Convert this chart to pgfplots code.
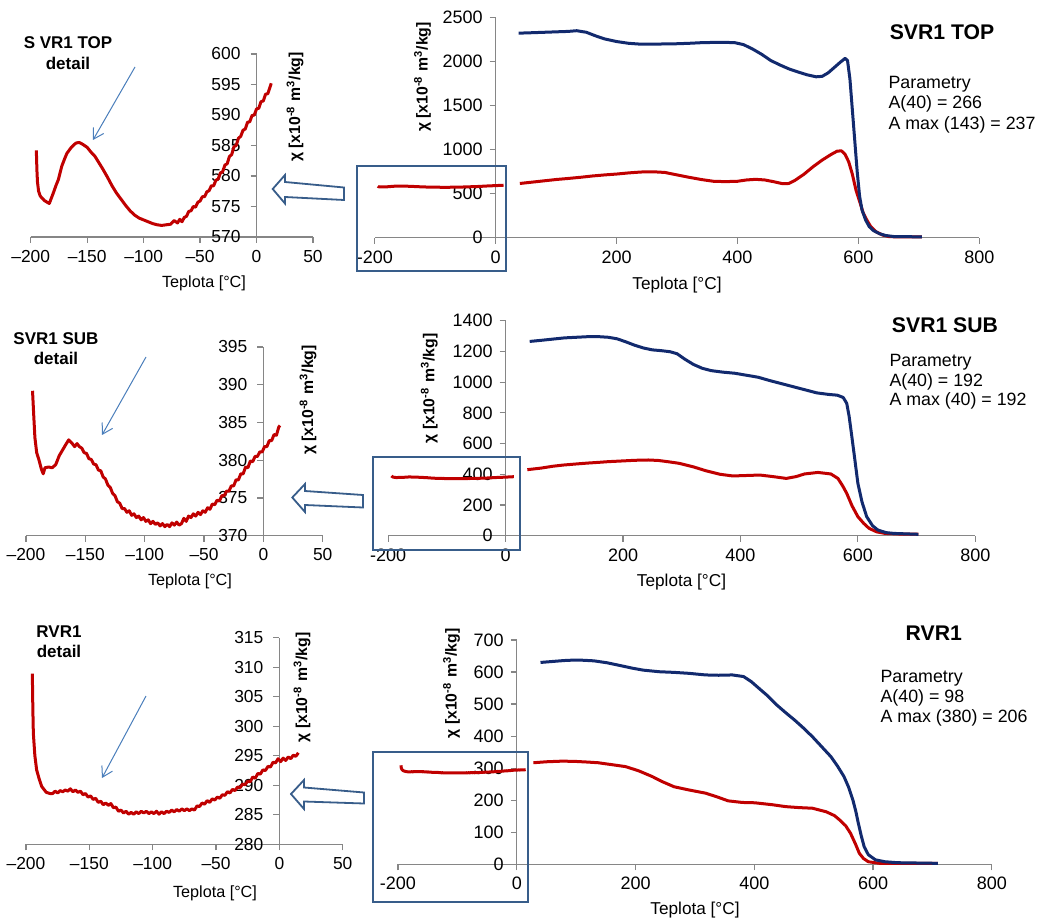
\documentclass[border=0pt]{standalone}
\usepackage{fontspec}
\setmainfont{Liberation Sans}
\usepackage{pgfplots}
\usepackage{pgfplotstable}
\pgfplotsset{compat=1.18}
\usetikzlibrary{arrows.meta}

\definecolor{axisgray}{RGB}{134,134,134}
\definecolor{chired}{RGB}{192,0,0}
\definecolor{chiblue}{RGB}{18,42,110}
\definecolor{boxblue}{RGB}{56,93,138}
\definecolor{pointer}{RGB}{74,126,187}

% ---------- SVR1 TOP ----------
\pgfplotstableread{
T chi
-195 584.2
-194.5 581
-194 579
-193 577.5
-191.5 576.7
-188 576
-185.5 575.7
-183.5 575.5
-180 577.2
-177.5 578.5
-175.5 579.4
-172.5 581.6
-170 582.8
-168 583.7
-164 584.7
-160 585.4
-157 585.5
-154 585.2
-150 584.7
-147 584
-143 583.2
-140 582.3
-136 581.1
-132 579.8
-128 578.4
-124 577.2
-120 576.2
-116 575.2
-112 574.3
-108 573.6
-104 573.1
-100 572.8
-96 572.5
-92 572.2
-88 572.0
-84 571.9
-80 572.0
-76 572.1
-73 572.7
-70 572.3
-68 572.9
-66 572.5
-64 573.2
-62 573.4
-60 574.2
-58 574.3
-56 575.0
-54 574.9
-52 575.7
-50 575.9
-48 576.6
-46 576.6
-44 577.4
-42 577.6
-40 578.4
-38 578.4
-36 579.3
-34 579.5
-32 580.5
-30 580.7
-28 581.8
-26 582.0
-24 583.2
-22 583.5
-20 584.8
-18 585.0
-16 586.2
-14 586.5
-12 587.5
-10 587.7
-8 588.8
-6 588.9
-4 589.9
-2 590.0
0 591.0
2 591.1
4 592.2
6 592.3
8 593.4
10 593.5
12 594.6
13 595.2
}\topdetail

\pgfplotstableread{
T chi
40 615
60 630
80 645
100 660
120 672
140 685
160 700
180 712
200 722
220 735
240 745
260 748
280 740
300 712
320 685
340 660
360 640
380 636
400 640
415 655
430 662
445 655
460 635
475 612
485 615
495 650
510 720
525 805
540 880
555 945
565 982
572 985
578 945
584 860
590 720
596 540
603 390
608 280
614 200
620 130
629 68
640 30
651 12
670 8
705 8
}\topred

\pgfplotstableread{
T chi
38 2320
60 2325
80 2330
100 2335
120 2340
134 2348
150 2330
165 2290
180 2255
200 2225
220 2205
240 2195
260 2195
280 2198
300 2200
320 2205
340 2212
360 2215
380 2215
395 2213
410 2190
425 2140
440 2080
455 2010
470 1960
485 1915
500 1880
515 1848
530 1825
540 1830
550 1870
560 1930
570 1990
578 2034
582 2010
586 1800
590 1450
594 1100
598 750
602 470
606 314
612 200
618 125
625 80
635 45
645 25
660 12
705 10
}\topblue

% ---------- SVR1 SUB ----------
\pgfplotstableread{
T chi
-194.5 389.2
-193.5 386
-192.5 383
-191 381
-189 380
-187 378.8
-185.5 378.2
-184 379
-181 379.1
-178 379
-175 379.4
-172 380.6
-169 381.4
-166 382.2
-164 382.7
-161 382.2
-159 381.8
-157 382.2
-155 381.8
-153 381.6
-151 381.0
-149 380.9
-147 380.2
-145 380.1
-143 379.5
-141 379.4
-139 378.7
-137 378.6
-135 377.8
-133 377.5
-131 376.7
-129 376.4
-127 375.6
-125 375.3
-123 374.5
-121 374.3
-119 373.6
-117 373.6
-115 373.1
-113 373.3
-111 372.7
-109 372.9
-107 372.4
-105 372.6
-103 372.1
-101 372.4
-99 371.9
-97 372.1
-95 371.6
-93 371.9
-91 371.5
-89 371.7
-87 371.3
-85 371.6
-83 371.2
-81 371.5
-79 371.2
-77 371.7
-75 371.4
-73 371.8
-71 371.4
-69 371.6
-67 372.3
-65 371.9
-63 372.6
-61 372.4
-59 372.9
-57 372.6
-55 373.1
-53 372.8
-51 373.3
-49 373.1
-47 373.7
-45 373.5
-43 374.2
-41 374.1
-39 374.7
-37 374.6
-35 375.3
-33 375.3
-31 375.9
-29 375.9
-27 376.6
-25 376.6
-23 377.4
-21 377.4
-19 378.2
-17 378.2
-15 379.1
-13 379.0
-11 379.9
-9 379.8
-7 380.5
-5 380.5
-3 381.1
-1 381.1
1 381.8
3 381.8
5 382.6
7 382.6
9 383.4
11 383.3
13 384.4
14 384.6
}\subdetail

\pgfplotstableread{
T chi
37 430
60 440
80 452
98 460
120 467
140 473
160 478
174 482
200 487
220 491
243 493
260 490
280 480
296 471
320 448
341 423
365 400
387 389
410 392
433 395
455 385
478 373
495 385
509 402
532 412
554 402
566 373
574 325
581 276
590 195
600 124
610 80
619 48
632 25
646 15
670 11
703 11
}\subred

\pgfplotstableread{
T chi
41 1265
60 1272
80 1280
100 1288
120 1292
140 1296
155 1297
175 1292
190 1282
205 1262
220 1240
235 1222
250 1210
265 1205
280 1198
292 1185
305 1150
320 1115
335 1090
350 1075
370 1065
390 1058
410 1045
430 1032
450 1010
470 990
490 970
510 950
530 930
550 920
565 915
575 900
581 862
585 780
589 666
594 520
600 341
607 220
615 124
625 65
634 37
648 20
661 15
703 9
}\subblue

% ---------- RVR1 ----------
\pgfplotstableread{
T chi
-195 308.9
-194.6 303
-194.2 298.8
-193 295
-191.6 292.6
-189.5 291
-187.6 289.8
-184 288.8
-181 288.6
-179 288.6
-177 289.0
-175 288.7
-173 289.1
-171 288.9
-169 289.2
-167 289.0
-165 289.4
-163 288.9
-161 289.2
-159 288.8
-157 289.0
-155 288.4
-153 288.6
-151 288.0
-149 288.2
-147 287.6
-145 287.8
-143 287.1
-141 287.3
-139 286.7
-137 287.0
-135 286.6
-133 286.9
-131 286.2
-129 286.3
-127 285.6
-125 285.8
-123 285.3
-121 285.6
-119 285.1
-117 285.4
-115 285.1
-113 285.5
-111 285.2
-109 285.6
-107 285.3
-105 285.6
-103 285.2
-101 285.5
-99 285.2
-97 285.6
-95 285.1
-93 285.5
-91 285.2
-89 285.6
-87 285.4
-85 285.8
-83 285.5
-81 285.9
-79 285.6
-77 286.0
-75 285.7
-73 286.0
-71 285.7
-69 286.0
-67 285.8
-65 286.5
-63 286.4
-61 287.0
-59 286.8
-57 287.4
-55 287.1
-53 287.7
-51 287.5
-49 288.0
-47 287.8
-45 288.4
-43 288.3
-41 288.9
-39 288.7
-37 289.3
-35 289.1
-33 289.7
-31 289.6
-29 290.2
-27 290.1
-25 290.7
-23 290.6
-21 291.4
-19 291.2
-17 292.0
-15 291.9
-13 292.6
-11 292.5
-9 293.2
-7 293.1
-5 293.9
-3 293.8
-1 294.5
1 294.0
3 294.6
5 294.2
7 294.8
9 294.5
11 295.1
13 294.9
15 295.5
}\rdetail

\pgfplotstableread{
T chi
28 317
50 320
77 322
100 321
120 319
137 317
160 311
183 305
205 292
228 274
245 258
265 242
290 232
318 222
338 210
356 198
380 193
401 192
430 186
453 180
475 177
498 175
521 164
535 152
544 138
554 120
562 97
570 65
577 34
584 18
592 8
611 3
709 3
}\rred

\pgfplotstableread{
T chi
40 630
60 633
80 636
92 637
110 637
130 635
152 629
175 620
195 612
213 606
240 601
265 599
290 596
318 591
340 590
363 591
382 586
395 570
408 549
423 525
438 497
453 473
468 450
483 425
498 398
513 368
529 336
540 307
551 274
559 240
566 201
571 165
575 130
580 90
585 55
592 30
604 14
620 8
641 5
709 3
}\rblue

\pgfplotsset{
  panel/.style={
    scale only axis,
    anchor=south west,
    axis y line=middle,
    axis x line=bottom,
    axis line style={-, draw=axisgray, line width=0.6pt},
    tick style={draw=axisgray, line width=0.6pt},
    major tick length=3pt,
    tick align=outside,
    hide obscured x ticks=false,
    hide obscured y ticks=false,
    enlargelimits=false,
    clip=false,
    /pgf/number format/assume math mode=true,
    /pgf/number format/1000 sep={},
    every axis plot/.append style={line width=1.5pt, line join=round, no marks},
  },
  detail/.style={panel,
    xmin=-200, xmax=50, xtick={-200,-150,...,50},
    xticklabels={–200,–150,–100,–50,0,50},
    ticklabel style={font=\fontsize{8.7}{9}\selectfont},
    yticklabel style={xshift=-1.5pt},
  },
  main/.style={panel,
    xmin=-200, xmax=800, xtick={-200,0,...,800},
    ticklabel style={font=\fontsize{9}{10}\selectfont},
  },
}

\newcommand{\chilabel}{χ [x10\textsuperscript{-8} m\textsuperscript{3}/kg]}

\begin{document}
\begin{tikzpicture}
\path[use as bounding box] (0,0) rectangle (520pt,461.5pt);

% SVR1 TOP
\begin{axis}[detail, at={(15.35pt,343pt)}, width=141.15pt, height=91.5pt,
  ymin=570, ymax=600, ytick={570,575,...,600}]
  \addplot[chired] table[x=T, y=chi] {\topdetail};
\end{axis}
\begin{axis}[main, at={(187.4pt,342.65pt)}, width=302.25pt, height=110.2pt,
  ymin=0, ymax=2500, ytick={0,500,...,2500}]
  \addplot[chired] table[x=T, y=chi] {\topdetail};
  \addplot[chired] table[x=T, y=chi] {\topred};
  \addplot[chiblue] table[x=T, y=chi] {\topblue};
\end{axis}

% SVR1 SUB
\begin{axis}[detail, at={(13pt,193.65pt)}, width=148.35pt, height=94.35pt,
  ymin=370, ymax=395, ytick={370,375,...,395}]
  \addplot[chired] table[x=T, y=chi] {\subdetail};
\end{axis}
\begin{axis}[main, at={(194.1pt,193.65pt)}, width=293.55pt, height=107.5pt,
  ymin=0, ymax=1400, ytick={0,200,...,1400}]
  \addplot[chired] table[x=T, y=chi] {\subdetail};
  \addplot[chired] table[x=T, y=chi] {\subred};
  \addplot[chiblue] table[x=T, y=chi] {\subblue};
\end{axis}

% RVR1
\begin{axis}[detail, at={(13pt,39.35pt)}, width=158.35pt, height=103.3pt,
  ymin=280, ymax=315, ytick={280,285,...,315}]
  \addplot[chired] table[x=T, y=chi] {\rdetail};
\end{axis}
\begin{axis}[main, at={(199pt,29.35pt)}, width=296.9pt, height=112.15pt,
  ymin=0, ymax=700, ytick={0,100,...,700}]
  \addplot[chired] table[x=T, y=chi] {\rdetail};
  \addplot[chired] table[x=T, y=chi] {\rred};
  \addplot[chiblue] table[x=T, y=chi] {\rblue};
\end{axis}

% annotations, in pixel-like units measured from the top left corner
\begin{scope}[x=0.5pt, y=-0.5pt, shift={(0,461.5pt)}]
  \tikzset{
    dtitle/.style={font=\bfseries\fontsize{8.5}{10.2}\selectfont, align=center},
    mtitle/.style={font=\bfseries\fontsize{10.6}{12}\selectfont},
    param/.style={anchor=base west, font=\fontsize{8.9}{10}\selectfont, inner sep=0pt},
    xl/.style={font=\fontsize{8.1}{9}\selectfont},
    xlm/.style={font=\fontsize{8.6}{9}\selectfont},
    yl/.style={rotate=90, font=\bfseries\fontsize{7.9}{9}\selectfont},
    box/.style={draw=boxblue, line width=1pt},
    hollow/.style={draw=boxblue, fill=white, line width=0.9pt, line join=miter},
    hint/.style={draw=pointer, line width=0.5pt, -{Straight Barb[length=5pt,width=6pt]}},
  }
  % panel 1
  \node[dtitle] at (68,53) {S VR1 TOP\\detail};
  \draw[hint] (135,67) -- (93,140);
  \node[xl] at (204,283) {Teplota [°C]};
  \node[yl] at (295,107) {\chilabel};
  \node[yl] at (422.6,77) {\chilabel};
  \node[xlm] at (677,285) {Teplota [°C]};
  \node[mtitle] at (942,32) {SVR1 TOP};
  \node[param] at (888.2,88.3) {Parametry};
  \node[param] at (888.2,108.3) {A(40) = 266};
  \node[param] at (888.2,130) {A max (143) = 237};
  \draw[box] (357,165.7) rectangle (506,271);
  \draw[hollow] (272.7,189) -- (285,175) -- (285,182) -- (344,187.5) -- (344,200) -- (285,197) -- (285,203.5) -- cycle;

  % panel 2
  \node[dtitle] at (56,348.5) {SVR1 SUB\\detail};
  \draw[hint] (146,357) -- (102,435);
  \node[xl] at (190,581.7) {Teplota [°C]};
  \node[yl] at (308,400) {\chilabel};
  \node[yl] at (429.3,388.5) {\chilabel};
  \node[xlm] at (681.5,581.7) {Teplota [°C]};
  \node[mtitle] at (945,325) {SVR1 SUB};
  \node[param] at (889.1,366.7) {Parametry};
  \node[param] at (889.1,386) {A(40) = 192};
  \node[param] at (889.1,406) {A max (40) = 192};
  \draw[box] (372.6,456.7) rectangle (519.9,550);
  \draw[hollow] (292.3,497.5) -- (305,484) -- (305,491) -- (363,495) -- (363,507.5) -- (305,505) -- (305,512) -- cycle;

  % panel 3
  \node[dtitle] at (59,641.5) {RVR1\\detail};
  \draw[hint] (146,696) -- (102,778);
  \node[xl] at (215,893.3) {Teplota [°C]};
  \node[yl] at (302,687.5) {\chilabel};
  \node[yl] at (451.6,683.5) {\chilabel};
  \node[xlm] at (695,910) {Teplota [°C]};
  \node[mtitle] at (933.8,633.3) {RVR1};
  \node[param] at (880.2,682.7) {Parametry};
  \node[param] at (880.2,702.3) {A(40) = 98};
  \node[param] at (880.2,722.7) {A max (380) = 206};
  \draw[box] (372.6,752.3) rectangle (527.5,901.7);
  \draw[hollow] (291,794) -- (304,780) -- (304,787.5) -- (364,792.5) -- (364,803.5) -- (304,801.5) -- (304,809) -- cycle;
\end{scope}
\end{tikzpicture}
\end{document}
